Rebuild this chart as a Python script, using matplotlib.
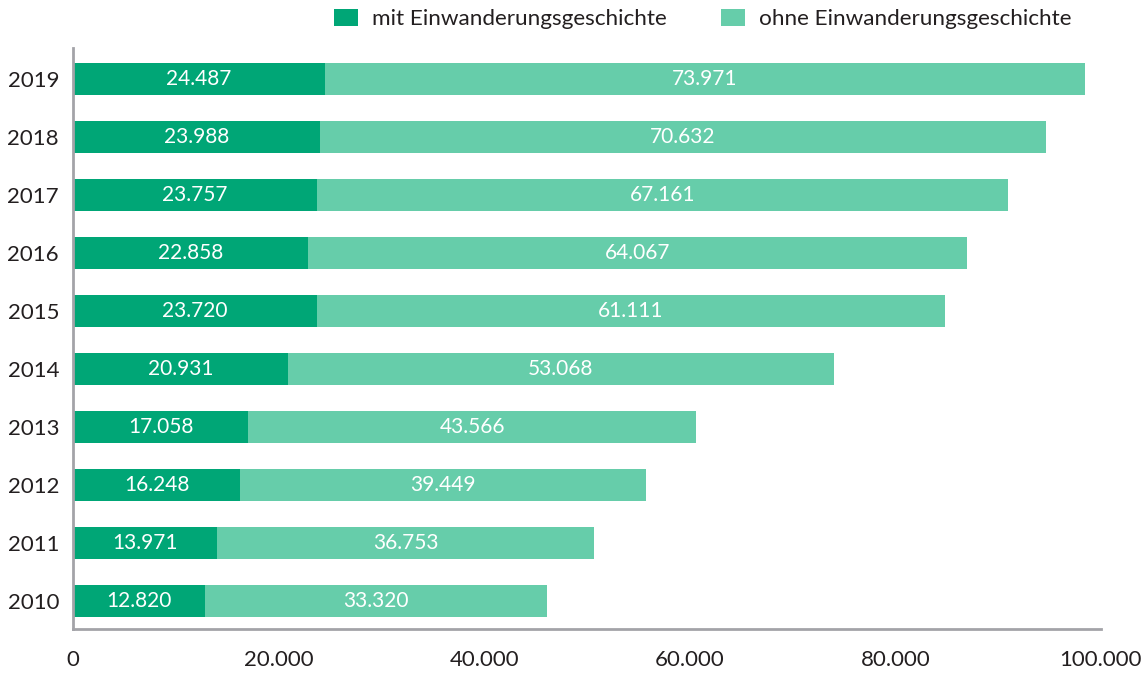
import numpy as np
import matplotlib.pyplot as plt

years = ["2010", "2011", "2012", "2013", "2014", "2015", "2016", "2017", "2018", "2019"]
mit = [12820, 13971, 16248, 17058, 20931, 23720, 22858, 23757, 23988, 24487]
ohne = [33320, 36753, 39449, 43566, 53068, 61111, 64067, 67161, 70632, 73971]
xticks = [0, 20000, 40000, 60000, 80000, 100000]

DARK = "#00a676"
LIGHT = "#66cdaa"
TEXT = "#231f20"
AXIS = "#a3a3a8"

plt.rcParams["font.family"] = ["Lato", "DejaVu Sans"]


def fmt(v):
    # german thousands separator
    return f"{v:,}".replace(",", ".")


fig = plt.figure(figsize=(11.48, 6.74), dpi=100)
ax = fig.add_axes([0.0636, 0.0668, 0.8954, 0.862])

y = np.arange(len(years))
b1 = ax.barh(y, mit, height=0.55, color=DARK, label="mit Einwanderungsgeschichte")
b2 = ax.barh(y, ohne, left=mit, height=0.55, color=LIGHT, label="ohne Einwanderungsgeschichte")

for i in range(len(years)):
    ax.text(mit[i] / 2, y[i], fmt(mit[i]), ha="center", va="center",
            color="white", fontsize=15)
    ax.text(mit[i] + ohne[i] / 2, y[i], fmt(ohne[i]), ha="center", va="center",
            color="white", fontsize=15)

ax.set_xlim(0, 100000)
ax.set_ylim(-0.48, 9.53)
ax.set_yticks(y)
ax.set_yticklabels(years)
ax.set_xticks(xticks)
ax.set_xticklabels([fmt(v) for v in xticks])
ax.tick_params(axis="both", length=0, labelsize=16, colors=TEXT)
ax.tick_params(axis="x", pad=15)
ax.tick_params(axis="y", pad=10)

for s in ["top", "right"]:
    ax.spines[s].set_visible(False)
for s in ["left", "bottom"]:
    ax.spines[s].set_color(AXIS)
    ax.spines[s].set_linewidth(2)

fig.legend(handles=[b1, b2], loc="upper center", bbox_to_anchor=(0.612, 1.017),
           ncol=2, frameon=False, fontsize=16.2, handlelength=1.1, handleheight=0.8,
           columnspacing=2.4, handletextpad=0.6, labelcolor=TEXT)

fig.savefig("out.png", dpi=100)
